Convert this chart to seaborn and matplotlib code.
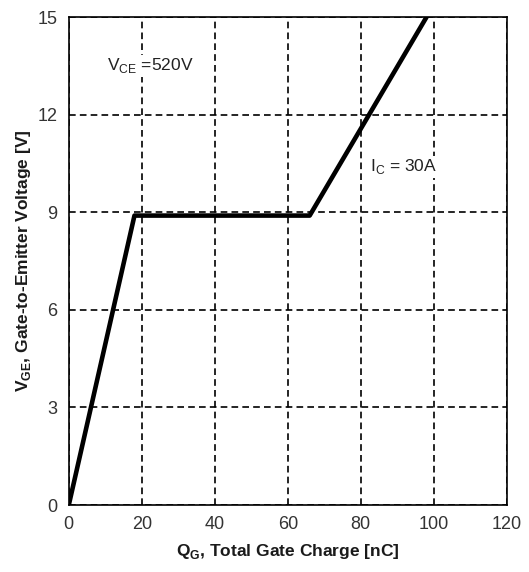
import matplotlib
matplotlib.use("Agg")
import matplotlib.pyplot as plt
import seaborn as sns
import pandas as pd

charge_nc = [0, 18, 66, 98]
vge_v = [0, 8.9, 8.9, 15]
x_ticks = [0, 20, 40, 60, 80, 100, 120]
y_ticks = [0, 3, 6, 9, 12, 15]

sns.set_style("white")
plt.rcParams['font.family'] = ['Liberation Sans', 'DejaVu Sans']

df = pd.DataFrame({"Q": charge_nc, "V": vge_v})

fig = plt.figure(figsize=(5.29, 5.72), dpi=100)
ax = fig.add_axes([0.130, 0.117, 0.828, 0.853])

sns.lineplot(data=df, x="Q", y="V", ax=ax, color="black", linewidth=3.3, sort=False)

ax.set_xlim(0, 120)
ax.set_ylim(0, 15)
ax.set_xticks(x_ticks)
ax.set_yticks(y_ticks)
ax.tick_params(axis="both", labelsize=13, colors="#333333", direction="in", length=4, width=1, pad=8)
ax.grid(True, color="black", linestyle=(0, (4, 2.5)), linewidth=1.2)
for s in ax.spines.values():
    s.set_color("black")
    s.set_linewidth(1.2)

ax.set_xlabel("Q$_\\mathregular{G}$, Total Gate Charge [nC]", fontsize=12.5, fontweight="bold", labelpad=6, color="#1a1a1a")
ax.set_ylabel("V$_\\mathregular{GE}$, Gate-to-Emitter Voltage [V]", fontsize=12.5, fontweight="bold", labelpad=3, color="#1a1a1a")

ax.text(10.5, 13.5, "V$_\\mathregular{CE}$ =520V", fontsize=12.5, va="center", ha="left", color="#222222",
        bbox=dict(facecolor="white", edgecolor="none", pad=1))
ax.text(82.5, 10.4, "I$_\\mathregular{C}$ = 30A", fontsize=12.5, va="center", ha="left", color="#222222",
        bbox=dict(facecolor="white", edgecolor="none", pad=1))

fig.savefig("out.png", dpi=100)
